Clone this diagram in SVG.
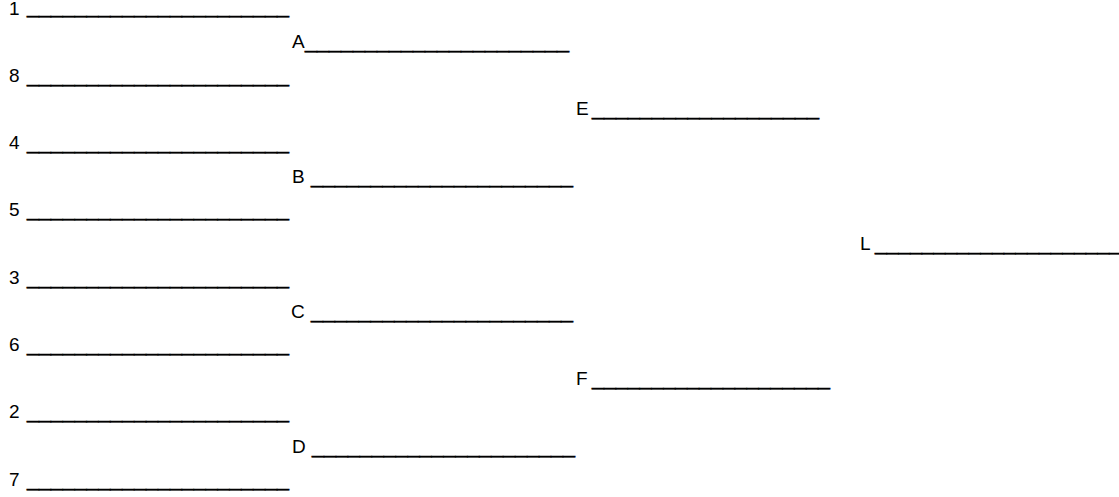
<svg xmlns="http://www.w3.org/2000/svg" width="1119" height="497" viewBox="0 0 1119 497">
<style>
text{font-family:"Liberation Sans",Arial,sans-serif;font-size:19px;fill:#000}
.u{stroke:#000;stroke-width:0.5}
</style>
<rect width="1119" height="497" fill="#fff"/>
<g id="connectors"></g>
<g id="n1"><text x="9" y="15">1</text><text class="u" x="27" y="13" textLength="262" lengthAdjust="spacingAndGlyphs">______________________</text></g>
<g id="n8"><text x="9" y="82">8</text><text class="u" x="27" y="82" textLength="262" lengthAdjust="spacingAndGlyphs">______________________</text></g>
<g id="n4"><text x="9" y="149">4</text><text class="u" x="27" y="149" textLength="262" lengthAdjust="spacingAndGlyphs">______________________</text></g>
<g id="n5"><text x="9" y="216">5</text><text class="u" x="27" y="216" textLength="262" lengthAdjust="spacingAndGlyphs">______________________</text></g>
<g id="n3"><text x="9" y="284">3</text><text class="u" x="27" y="284" textLength="262" lengthAdjust="spacingAndGlyphs">______________________</text></g>
<g id="n6"><text x="9" y="351">6</text><text class="u" x="27" y="351" textLength="262" lengthAdjust="spacingAndGlyphs">______________________</text></g>
<g id="n2"><text x="9" y="418">2</text><text class="u" x="27" y="418" textLength="262" lengthAdjust="spacingAndGlyphs">______________________</text></g>
<g id="n7"><text x="9" y="486">7</text><text class="u" x="27" y="486" textLength="262" lengthAdjust="spacingAndGlyphs">______________________</text></g>
<g id="nA"><text x="292" y="48">A</text><text class="u" x="305" y="48" textLength="264" lengthAdjust="spacingAndGlyphs">______________________</text></g>
<g id="nB"><text x="292" y="183">B</text><text class="u" x="311" y="183" textLength="262" lengthAdjust="spacingAndGlyphs">______________________</text></g>
<g id="nC"><text x="291" y="318">C</text><text class="u" x="311" y="318" textLength="262" lengthAdjust="spacingAndGlyphs">______________________</text></g>
<g id="nD"><text x="292" y="453">D</text><text class="u" x="312" y="453" textLength="263" lengthAdjust="spacingAndGlyphs">______________________</text></g>
<g id="nE"><text x="576" y="115">E</text><text class="u" x="592" y="115" textLength="227" lengthAdjust="spacingAndGlyphs">___________________</text></g>
<g id="nF"><text x="576" y="385">F</text><text class="u" x="592" y="385" textLength="238" lengthAdjust="spacingAndGlyphs">____________________</text></g>
<g id="nL"><text x="860" y="250">L</text><text class="u" x="875" y="250" textLength="246" lengthAdjust="spacingAndGlyphs">_____________________</text></g>
</svg>
